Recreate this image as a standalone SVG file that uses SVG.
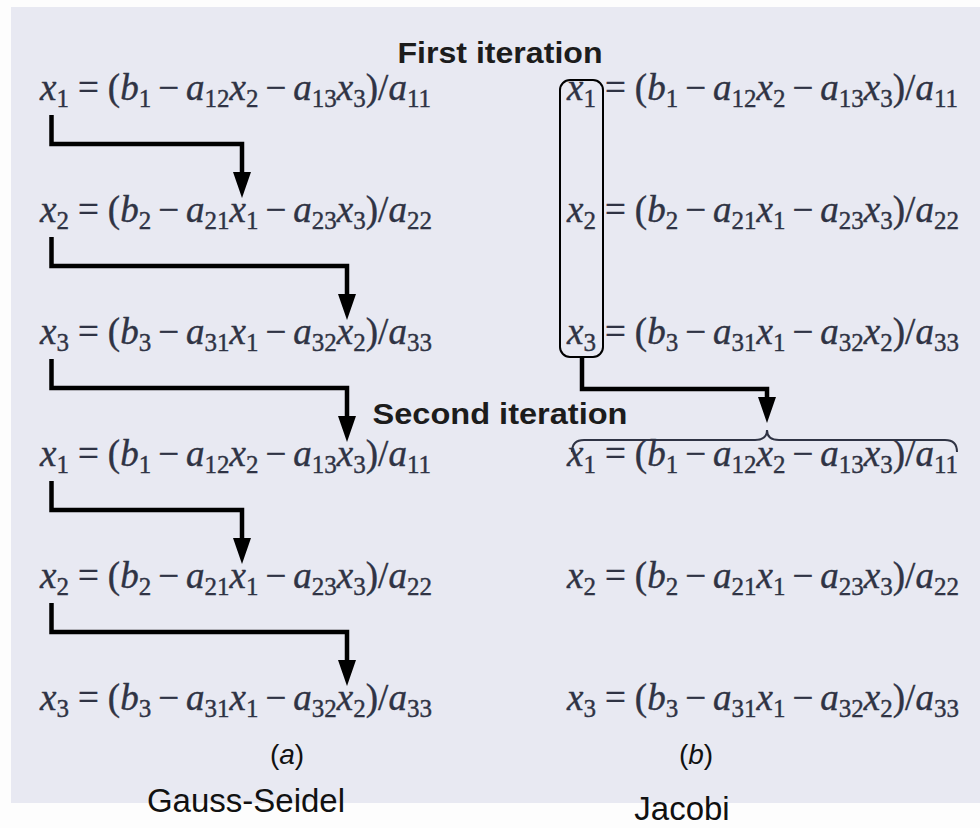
<svg xmlns="http://www.w3.org/2000/svg" width="980" height="828" viewBox="0 0 980 828">
<style>
.eq{font-family:'Liberation Serif','Times New Roman',serif;font-size:37px;fill:#2f3344;stroke:#2f3344;stroke-width:0.4}
.i{font-style:italic}
.s{font-size:25px;font-style:normal}
.title{font-family:'Liberation Sans',Arial,sans-serif;font-weight:bold;font-size:30px;fill:#1c1c1c}
.cap{font-family:'Liberation Sans',Arial,sans-serif;font-size:28px;fill:#111}
.lbl{font-family:'Liberation Sans',Arial,sans-serif;font-size:33px;fill:#111}
.conn{fill:none;stroke:#000;stroke-width:4.5;stroke-linejoin:miter;stroke-linecap:butt}
.box{fill:none;stroke:#000;stroke-width:2}
.brace{fill:none;stroke:#2f3344;stroke-width:2}
</style>
<defs>
<marker id="ah" markerUnits="userSpaceOnUse" markerWidth="27" markerHeight="20" viewBox="0 0 27 20" refX="1" refY="10" orient="auto">
<path d="M0,1 L26,10 L0,19 z" fill="#000"/>
</marker>
</defs>
<rect x="0" y="0" width="980" height="828" fill="#fdfdfd"/>
<rect x="11" y="7" width="969" height="796" fill="#e8e9f2"/>

<text class="title" x="500" y="63" text-anchor="middle" textLength="205" lengthAdjust="spacingAndGlyphs">First iteration</text>
<text class="title" x="500" y="424" text-anchor="middle" textLength="255" lengthAdjust="spacingAndGlyphs">Second iteration</text>

<g id="gs1"><text class="eq" x="40" y="100"><tspan class="i">x</tspan><tspan class="s" dy="7">1</tspan><tspan dy="-7" dx="9">=</tspan><tspan dx="9">(</tspan><tspan class="i">b</tspan><tspan class="s" dy="7">1</tspan><tspan dy="-7" dx="7">−</tspan><tspan class="i" dx="7">a</tspan><tspan class="s" dy="7">12</tspan><tspan class="i" dy="-7">x</tspan><tspan class="s" dy="7">2</tspan><tspan dy="-7" dx="7">−</tspan><tspan class="i" dx="7">a</tspan><tspan class="s" dy="7">13</tspan><tspan class="i" dy="-7">x</tspan><tspan class="s" dy="7">3</tspan><tspan dy="-7">)/</tspan><tspan class="i">a</tspan><tspan class="s" dy="7">11</tspan></text></g>
<g id="gs2"><text class="eq" x="40" y="222"><tspan class="i">x</tspan><tspan class="s" dy="7">2</tspan><tspan dy="-7" dx="9">=</tspan><tspan dx="9">(</tspan><tspan class="i">b</tspan><tspan class="s" dy="7">2</tspan><tspan dy="-7" dx="7">−</tspan><tspan class="i" dx="7">a</tspan><tspan class="s" dy="7">21</tspan><tspan class="i" dy="-7">x</tspan><tspan class="s" dy="7">1</tspan><tspan dy="-7" dx="7">−</tspan><tspan class="i" dx="7">a</tspan><tspan class="s" dy="7">23</tspan><tspan class="i" dy="-7">x</tspan><tspan class="s" dy="7">3</tspan><tspan dy="-7">)/</tspan><tspan class="i">a</tspan><tspan class="s" dy="7">22</tspan></text></g>
<g id="gs3"><text class="eq" x="40" y="344"><tspan class="i">x</tspan><tspan class="s" dy="7">3</tspan><tspan dy="-7" dx="9">=</tspan><tspan dx="9">(</tspan><tspan class="i">b</tspan><tspan class="s" dy="7">3</tspan><tspan dy="-7" dx="7">−</tspan><tspan class="i" dx="7">a</tspan><tspan class="s" dy="7">31</tspan><tspan class="i" dy="-7">x</tspan><tspan class="s" dy="7">1</tspan><tspan dy="-7" dx="7">−</tspan><tspan class="i" dx="7">a</tspan><tspan class="s" dy="7">32</tspan><tspan class="i" dy="-7">x</tspan><tspan class="s" dy="7">2</tspan><tspan dy="-7">)/</tspan><tspan class="i">a</tspan><tspan class="s" dy="7">33</tspan></text></g>
<g id="gs4"><text class="eq" x="40" y="466"><tspan class="i">x</tspan><tspan class="s" dy="7">1</tspan><tspan dy="-7" dx="9">=</tspan><tspan dx="9">(</tspan><tspan class="i">b</tspan><tspan class="s" dy="7">1</tspan><tspan dy="-7" dx="7">−</tspan><tspan class="i" dx="7">a</tspan><tspan class="s" dy="7">12</tspan><tspan class="i" dy="-7">x</tspan><tspan class="s" dy="7">2</tspan><tspan dy="-7" dx="7">−</tspan><tspan class="i" dx="7">a</tspan><tspan class="s" dy="7">13</tspan><tspan class="i" dy="-7">x</tspan><tspan class="s" dy="7">3</tspan><tspan dy="-7">)/</tspan><tspan class="i">a</tspan><tspan class="s" dy="7">11</tspan></text></g>
<g id="gs5"><text class="eq" x="40" y="588"><tspan class="i">x</tspan><tspan class="s" dy="7">2</tspan><tspan dy="-7" dx="9">=</tspan><tspan dx="9">(</tspan><tspan class="i">b</tspan><tspan class="s" dy="7">2</tspan><tspan dy="-7" dx="7">−</tspan><tspan class="i" dx="7">a</tspan><tspan class="s" dy="7">21</tspan><tspan class="i" dy="-7">x</tspan><tspan class="s" dy="7">1</tspan><tspan dy="-7" dx="7">−</tspan><tspan class="i" dx="7">a</tspan><tspan class="s" dy="7">23</tspan><tspan class="i" dy="-7">x</tspan><tspan class="s" dy="7">3</tspan><tspan dy="-7">)/</tspan><tspan class="i">a</tspan><tspan class="s" dy="7">22</tspan></text></g>
<g id="gs6"><text class="eq" x="40" y="710"><tspan class="i">x</tspan><tspan class="s" dy="7">3</tspan><tspan dy="-7" dx="9">=</tspan><tspan dx="9">(</tspan><tspan class="i">b</tspan><tspan class="s" dy="7">3</tspan><tspan dy="-7" dx="7">−</tspan><tspan class="i" dx="7">a</tspan><tspan class="s" dy="7">31</tspan><tspan class="i" dy="-7">x</tspan><tspan class="s" dy="7">1</tspan><tspan dy="-7" dx="7">−</tspan><tspan class="i" dx="7">a</tspan><tspan class="s" dy="7">32</tspan><tspan class="i" dy="-7">x</tspan><tspan class="s" dy="7">2</tspan><tspan dy="-7">)/</tspan><tspan class="i">a</tspan><tspan class="s" dy="7">33</tspan></text></g>

<g id="j1"><text class="eq" x="567" y="100"><tspan class="i">x</tspan><tspan class="s" dy="7">1</tspan><tspan dy="-7" dx="9">=</tspan><tspan dx="9">(</tspan><tspan class="i">b</tspan><tspan class="s" dy="7">1</tspan><tspan dy="-7" dx="7">−</tspan><tspan class="i" dx="7">a</tspan><tspan class="s" dy="7">12</tspan><tspan class="i" dy="-7">x</tspan><tspan class="s" dy="7">2</tspan><tspan dy="-7" dx="7">−</tspan><tspan class="i" dx="7">a</tspan><tspan class="s" dy="7">13</tspan><tspan class="i" dy="-7">x</tspan><tspan class="s" dy="7">3</tspan><tspan dy="-7">)/</tspan><tspan class="i">a</tspan><tspan class="s" dy="7">11</tspan></text></g>
<g id="j2"><text class="eq" x="567" y="222"><tspan class="i">x</tspan><tspan class="s" dy="7">2</tspan><tspan dy="-7" dx="9">=</tspan><tspan dx="9">(</tspan><tspan class="i">b</tspan><tspan class="s" dy="7">2</tspan><tspan dy="-7" dx="7">−</tspan><tspan class="i" dx="7">a</tspan><tspan class="s" dy="7">21</tspan><tspan class="i" dy="-7">x</tspan><tspan class="s" dy="7">1</tspan><tspan dy="-7" dx="7">−</tspan><tspan class="i" dx="7">a</tspan><tspan class="s" dy="7">23</tspan><tspan class="i" dy="-7">x</tspan><tspan class="s" dy="7">3</tspan><tspan dy="-7">)/</tspan><tspan class="i">a</tspan><tspan class="s" dy="7">22</tspan></text></g>
<g id="j3"><text class="eq" x="567" y="344"><tspan class="i">x</tspan><tspan class="s" dy="7">3</tspan><tspan dy="-7" dx="9">=</tspan><tspan dx="9">(</tspan><tspan class="i">b</tspan><tspan class="s" dy="7">3</tspan><tspan dy="-7" dx="7">−</tspan><tspan class="i" dx="7">a</tspan><tspan class="s" dy="7">31</tspan><tspan class="i" dy="-7">x</tspan><tspan class="s" dy="7">1</tspan><tspan dy="-7" dx="7">−</tspan><tspan class="i" dx="7">a</tspan><tspan class="s" dy="7">32</tspan><tspan class="i" dy="-7">x</tspan><tspan class="s" dy="7">2</tspan><tspan dy="-7">)/</tspan><tspan class="i">a</tspan><tspan class="s" dy="7">33</tspan></text></g>
<g id="j4"><text class="eq" x="567" y="466"><tspan class="i">x</tspan><tspan class="s" dy="7">1</tspan><tspan dy="-7" dx="9">=</tspan><tspan dx="9">(</tspan><tspan class="i">b</tspan><tspan class="s" dy="7">1</tspan><tspan dy="-7" dx="7">−</tspan><tspan class="i" dx="7">a</tspan><tspan class="s" dy="7">12</tspan><tspan class="i" dy="-7">x</tspan><tspan class="s" dy="7">2</tspan><tspan dy="-7" dx="7">−</tspan><tspan class="i" dx="7">a</tspan><tspan class="s" dy="7">13</tspan><tspan class="i" dy="-7">x</tspan><tspan class="s" dy="7">3</tspan><tspan dy="-7">)/</tspan><tspan class="i">a</tspan><tspan class="s" dy="7">11</tspan></text></g>
<g id="j5"><text class="eq" x="567" y="588"><tspan class="i">x</tspan><tspan class="s" dy="7">2</tspan><tspan dy="-7" dx="9">=</tspan><tspan dx="9">(</tspan><tspan class="i">b</tspan><tspan class="s" dy="7">2</tspan><tspan dy="-7" dx="7">−</tspan><tspan class="i" dx="7">a</tspan><tspan class="s" dy="7">21</tspan><tspan class="i" dy="-7">x</tspan><tspan class="s" dy="7">1</tspan><tspan dy="-7" dx="7">−</tspan><tspan class="i" dx="7">a</tspan><tspan class="s" dy="7">23</tspan><tspan class="i" dy="-7">x</tspan><tspan class="s" dy="7">3</tspan><tspan dy="-7">)/</tspan><tspan class="i">a</tspan><tspan class="s" dy="7">22</tspan></text></g>
<g id="j6"><text class="eq" x="567" y="710"><tspan class="i">x</tspan><tspan class="s" dy="7">3</tspan><tspan dy="-7" dx="9">=</tspan><tspan dx="9">(</tspan><tspan class="i">b</tspan><tspan class="s" dy="7">3</tspan><tspan dy="-7" dx="7">−</tspan><tspan class="i" dx="7">a</tspan><tspan class="s" dy="7">31</tspan><tspan class="i" dy="-7">x</tspan><tspan class="s" dy="7">1</tspan><tspan dy="-7" dx="7">−</tspan><tspan class="i" dx="7">a</tspan><tspan class="s" dy="7">32</tspan><tspan class="i" dy="-7">x</tspan><tspan class="s" dy="7">2</tspan><tspan dy="-7">)/</tspan><tspan class="i">a</tspan><tspan class="s" dy="7">33</tspan></text></g>

<g id="jbox"><rect class="box" x="560" y="80" width="43" height="277" rx="10"/></g>
<g id="brace"><path class="brace" d="M572,452 Q572,440 584,440 H755 Q767,440 767,430 Q767,440 779,440 H945 Q957,440 957,452"/></g>

<g id="connectors">
<path class="conn" d="M51.5,115 V144 H242 V173" marker-end="url(#ah)"/>
<path class="conn" d="M51.5,237 V266 H347 V295" marker-end="url(#ah)"/>
<path class="conn" d="M51.5,359 V388 H347 V417" marker-end="url(#ah)"/>
<path class="conn" d="M51.5,481 V510 H242 V539" marker-end="url(#ah)"/>
<path class="conn" d="M51.5,603 V632 H347 V661" marker-end="url(#ah)"/>
<path class="conn" d="M582,357 V389 H767 V398" marker-end="url(#ah)"/>
</g>

<g id="captions">
<text class="cap" x="287" y="764" text-anchor="middle">(<tspan font-style="italic">a</tspan>)</text>
<text class="cap" x="696" y="764" text-anchor="middle">(<tspan font-style="italic">b</tspan>)</text>
<text class="lbl" x="246" y="812" text-anchor="middle">Gauss-Seidel</text>
<text class="lbl" x="682" y="820" text-anchor="middle">Jacobi</text>
</g>
</svg>
